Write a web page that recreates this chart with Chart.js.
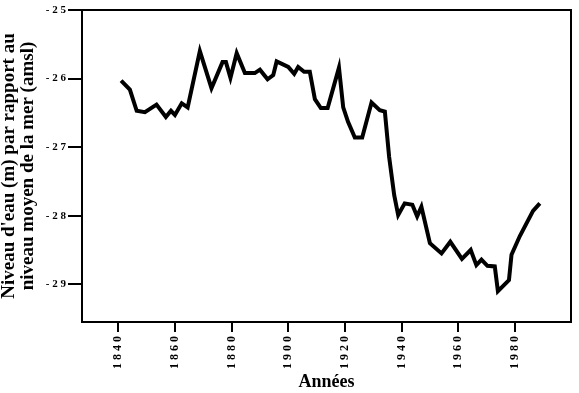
<!DOCTYPE html>
<html>
<head>
<meta charset="utf-8">
<script src="https://cdn.jsdelivr.net/npm/chart.js@4"></script>
<style>
  html, body { margin: 0; padding: 0; background: #fff; }
  #wrap { width: 579px; height: 393px; }
</style>
</head>
<body>
<div id="wrap"><canvas id="myChart" width="579" height="393"></canvas></div>
<script>
// annees et niveau d'eau (m amsl)
var years = [1841, 1844.1, 1846.5, 1849.4, 1853.5, 1856.8, 1858.6, 1860, 1862.4, 1864.5,
  1868.8, 1872.9, 1876.8, 1878, 1879.6, 1881.8, 1884.7, 1888.2, 1890, 1892.7,
  1894.7, 1895.9, 1900, 1902.1, 1903.5, 1905.6, 1907.6, 1909.4, 1911.5, 1913.9,
  1917.9, 1919.4, 1921.1, 1923.5, 1926.1, 1929.4, 1932.3, 1934.1, 1935.6, 1937.4,
  1938.8, 1941.1, 1943.8, 1945.5, 1947, 1950, 1954.1, 1957.2, 1961.3, 1964.4,
  1966.4, 1968.2, 1970.3, 1972.9, 1974, 1977.9, 1978.8, 1981.7, 1986.4, 1988.8];
var levels = [-26.03, -26.16, -26.47, -26.49, -26.38, -26.56, -26.47, -26.53, -26.36, -26.42,
  -25.60, -26.14, -25.76, -25.76, -25.99, -25.63, -25.92, -25.92, -25.87, -26.01,
  -25.95, -25.75, -25.83, -25.93, -25.83, -25.90, -25.90, -26.30, -26.43, -26.43,
  -25.84, -26.42, -26.63, -26.86, -26.86, -26.35, -26.46, -26.48, -27.14, -27.70,
  -27.99, -27.82, -27.84, -28.01, -27.87, -28.40, -28.55, -28.38, -28.63, -28.50,
  -28.72, -28.64, -28.73, -28.74, -29.10, -28.94, -28.57, -28.30, -27.93, -27.82];
var xTicks = [1840, 1860, 1880, 1900, 1920, 1940, 1960, 1980];
var yTicks = [-25, -26, -27, -28, -29];

var points = years.map(function (y, i) { return { x: y, y: levels[i] }; });

var serif = "'Liberation Serif', 'DejaVu Serif', serif";

// the scanned figure has wide letter spacing on tick labels
function spaced(v) { return String(v).split("").join(" "); }

var boxPlugin = {
  id: "box",
  afterDraw: function (chart) {
    var a = chart.chartArea, c = chart.ctx;
    c.save();
    c.strokeStyle = "#000";
    c.lineWidth = 2;
    c.strokeRect(a.left, a.top, a.right - a.left, a.bottom - a.top);
    c.restore();
  }
};

var ctx = document.getElementById("myChart").getContext("2d");
var myChart = new Chart(ctx, {
  type: "line",
  data: {
    datasets: [{
      data: points,
      borderColor: "#000",
      borderWidth: 4,
      pointRadius: 0,
      tension: 0,
      fill: false
    }]
  },
  options: {
    responsive: false,
    animation: false,
    layout: { padding: { top: 10, right: 8, left: 0, bottom: 0 } },
    plugins: { legend: { display: false }, tooltip: { enabled: false } },
    scales: {
      x: {
        type: "linear",
        min: 1827.2,
        max: 1999.8,
        afterBuildTicks: function (s) { s.ticks = xTicks.map(function (v) { return { value: v }; }); },
        afterFit: function (s) { s.height = 71; },
        grid: { display: true, drawOnChartArea: false, drawTicks: true, tickLength: 10, color: "#000", lineWidth: 2 },
        border: { display: true, color: "#000", width: 2 },
        ticks: {
          color: "#000",
          font: { family: serif, size: 12, weight: "bold" },
          minRotation: 90,
          maxRotation: 90,
          padding: 4,
          callback: function (v) { return spaced(v); }
        },
        title: {
          display: true,
          text: "Années",
          color: "#000",
          font: { family: serif, size: 18, weight: "bold" },
          padding: { top: 2, bottom: 0 }
        }
      },
      y: {
        min: -29.55,
        max: -25,
        afterBuildTicks: function (s) { s.ticks = yTicks.map(function (v) { return { value: v }; }); },
        afterFit: function (s) { s.width = 82; },
        grid: { display: true, drawOnChartArea: false, drawTicks: true, tickLength: 14, color: "#000", lineWidth: 2 },
        border: { display: true, color: "#000", width: 2 },
        ticks: {
          color: "#000",
          font: { family: serif, size: 11, weight: "bold" },
          padding: 2,
          callback: function (v) { return spaced(v); }
        },
        title: {
          display: true,
          text: ["Niveau d'eau (m) par rapport au", "niveau moyen de la mer (amsl)"],
          color: "#000",
          font: { family: serif, size: 19, weight: "bold", lineHeight: 1.0 },
          padding: { top: 0, bottom: 0 }
        }
      }
    }
  },
  plugins: [boxPlugin]
});
</script>
</body>
</html>
